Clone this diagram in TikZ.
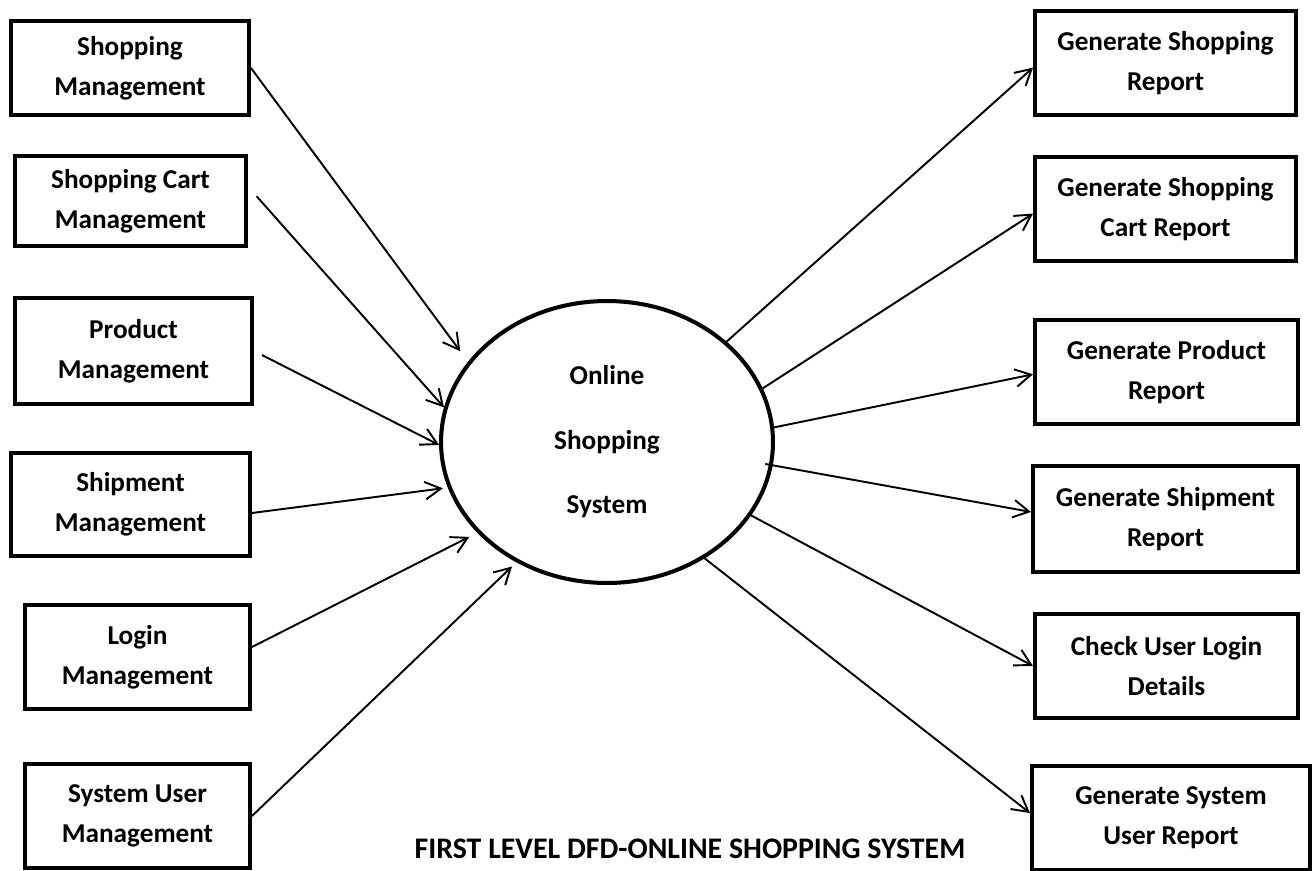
\documentclass[tikz,border=0pt]{standalone}
\usepackage{fontspec}
\setmainfont{Carlito}
\usepackage{tikz}
\usetikzlibrary{arrows.meta}
\usetikzlibrary{shapes.geometric}
\tikzstyle{every node}=[font=\bfseries\fontsize{15.5}{22.8}\selectfont]
\tikzstyle{box}=[draw, rectangle, line width=2.3pt, align=center, inner sep=0pt]
\tikzstyle{flow}=[line width=1.1pt, -{Straight Barb[length=9pt,width=10pt]}]

\begin{document}
\begin{tikzpicture}[x=0.02cm, y=-0.02cm]
            \useasboundingbox (0,0) rectangle (1314,871);

            \node[box, minimum width=4.76cm, minimum height=1.88cm] (smg) at (130,68) {Shopping\\Management};
            \node[box, minimum width=4.62cm, minimum height=1.80cm] (scmg) at (130.5,201) {Shopping Cart\\Management};
            \node[box, minimum width=4.74cm, minimum height=2.12cm] (pmg) at (133.5,351) {Product\\Management};
            \node[box, minimum width=4.78cm, minimum height=2.06cm] (shmg) at (130.5,504.5) {Shipment\\Management};
            \node[box, minimum width=4.50cm, minimum height=2.08cm] (lmg) at (137.5,657) {Login\\Management};
            \node[box, minimum width=4.50cm, minimum height=2.08cm] (sumg) at (137.5,816) {System User\\Management};

            \node[box, minimum width=5.22cm, minimum height=2.08cm] (gsr) at (1165.5,63) {Generate Shopping\\Report};
            \node[box, minimum width=5.22cm, minimum height=2.08cm] (gscr) at (1165.5,209) {Generate Shopping\\Cart Report};
            \node[box, minimum width=5.26cm, minimum height=2.08cm] (gpr) at (1166.5,372) {Generate Product\\Report};
            \node[box, minimum width=5.30cm, minimum height=2.12cm] (gshr) at (1165.5,519) {Generate Shipment\\Report};
            \node[box, minimum width=5.26cm, minimum height=2.08cm] (cul) at (1166.5,666) {Check User Login\\Details};
            \node[box, minimum width=5.56cm, minimum height=2.08cm] (gsur) at (1171,818) {Generate System\\User Report};

            \node[draw, ellipse, line width=2.3pt, inner sep=0pt, align=center, minimum width=6.64cm, minimum height=5.64cm,
                  font=\bfseries\fontsize{15.5}{36.7}\selectfont] (oss) at (607,442) {Online\\Shopping\\System};

            \node[font=\bfseries\fontsize{17}{20}\selectfont] (ttl) at (690,849) {FIRST LEVEL DFD-ONLINE SHOPPING SYSTEM};

            \draw[flow, shorten >=0.26cm] (smg.east) -- (oss.150);
            \draw[flow, shorten <=0.26cm] (scmg.7) -- (oss.168.4);
            \draw[flow, shorten <=0.18cm] (pmg.east) -- (oss.181.7);
            \draw[flow, shorten >=0.1cm] (shmg.-4) -- (oss.196.7);
            \draw[flow, shorten >=0.18cm] (lmg.5.5) -- (oss.215);
            \draw[flow, shorten >=0.12cm] (sumg.east) -- (oss.233.6);

            \draw[flow] (oss.40.1) -- (gsr.182);
            \draw[flow] (oss.19.5) -- (gscr.182);
            \draw[flow] (oss.5) -- (gpr.181);
            \draw[flow, shorten <=-0.15cm] (oss.-8.3) -- (gshr.177);
            \draw[flow] (oss.-27.4) -- (cul.west);
            \draw[flow] (oss.-50.2) -- (gsur.178);
        \end{tikzpicture}
\end{document}
